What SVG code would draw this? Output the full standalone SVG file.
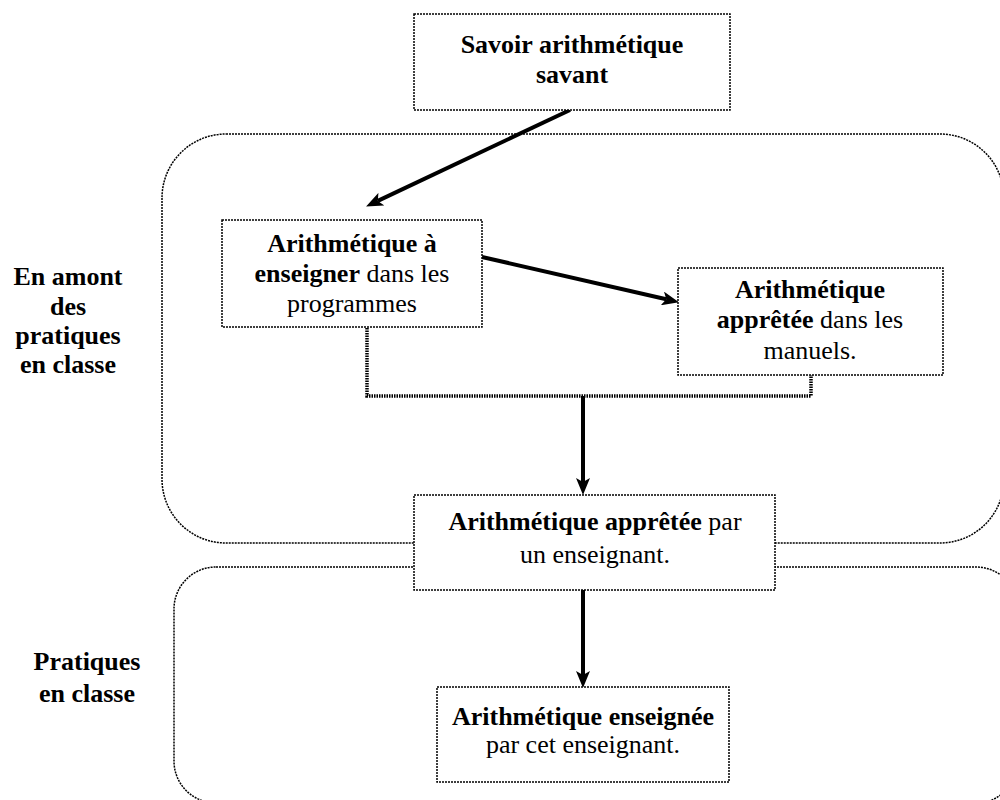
<svg xmlns="http://www.w3.org/2000/svg" width="1000" height="800" viewBox="0 0 1000 800">
<style>
.zone{fill:none;stroke:#000;stroke-width:1.5;stroke-dasharray:2 1}
.box{fill:#fff;stroke:#000;stroke-width:1.5;stroke-dasharray:2 1}
.t{font-family:"Liberation Serif","Times New Roman",serif;font-size:26px;fill:#000;text-anchor:middle}
.b{font-weight:bold}
.arrow{fill:none;stroke:#000;stroke-width:4}
.bracket{fill:none;stroke:#000;stroke-width:3.5;stroke-dasharray:1.5 1}
</style>
<defs>
<marker id="ah" markerUnits="userSpaceOnUse" markerWidth="18" markerHeight="14" refX="4" refY="7" orient="auto">
<path d="M0,0 L17,7 L0,14 L4,7 z" fill="#000"/>
</marker>
</defs>
<g id="zone-amont">
<rect class="zone" x="162" y="134" width="842" height="409" rx="64" ry="64"/>
</g>
<g id="zone-classe">
<rect class="zone" x="174" y="567" width="844" height="236" rx="42" ry="42"/>
</g>
<g id="label-amont">
<text class="t b" x="68" y="285">En amont</text>
<text class="t b" x="68" y="315">des</text>
<text class="t b" x="68" y="344">pratiques</text>
<text class="t b" x="68" y="373">en classe</text>
</g>
<g id="label-classe">
<text class="t b" x="87" y="670">Pratiques</text>
<text class="t b" x="87" y="702">en classe</text>
</g>
<g id="connectors">
<path class="bracket" d="M367,328 V396 H811 V375"/>
<line class="arrow" x1="570" y1="110" x2="377.8" y2="200.9" marker-end="url(#ah)"/>
<line class="arrow" x1="482" y1="257" x2="666.3" y2="299.3" marker-end="url(#ah)"/>
<line class="arrow" x1="583" y1="396" x2="583" y2="482" marker-end="url(#ah)"/>
<line class="arrow" x1="583" y1="590" x2="583" y2="675" marker-end="url(#ah)"/>
</g>
<g id="savant">
<rect class="box" x="414" y="14" width="316" height="96"/>
<text class="t b" x="572" y="53">Savoir arithmétique</text>
<text class="t b" x="572" y="83">savant</text>
</g>
<g id="programmes">
<rect class="box" x="222" y="220" width="260" height="107"/>
<text class="t" x="352" y="252"><tspan class="b">Arithmétique à</tspan></text>
<text class="t" x="352" y="282"><tspan class="b">enseigner</tspan> dans les</text>
<text class="t" x="352" y="312">programmes</text>
</g>
<g id="manuels">
<rect class="box" x="678" y="268" width="265" height="107"/>
<text class="t" x="810" y="298"><tspan class="b">Arithmétique</tspan></text>
<text class="t" x="810" y="328"><tspan class="b">apprêtée</tspan> dans les</text>
<text class="t" x="810" y="359">manuels.</text>
</g>
<g id="enseignant">
<rect class="box" x="414" y="495" width="361" height="95"/>
<text class="t" x="595" y="530"><tspan class="b">Arithmétique apprêtée</tspan> par</text>
<text class="t" x="595" y="563">un enseignant.</text>
</g>
<g id="enseignee">
<rect class="box" x="437" y="687" width="292" height="95"/>
<text class="t" x="583" y="725"><tspan class="b">Arithmétique enseignée</tspan></text>
<text class="t" x="583" y="753">par cet enseignant.</text>
</g>
</svg>
